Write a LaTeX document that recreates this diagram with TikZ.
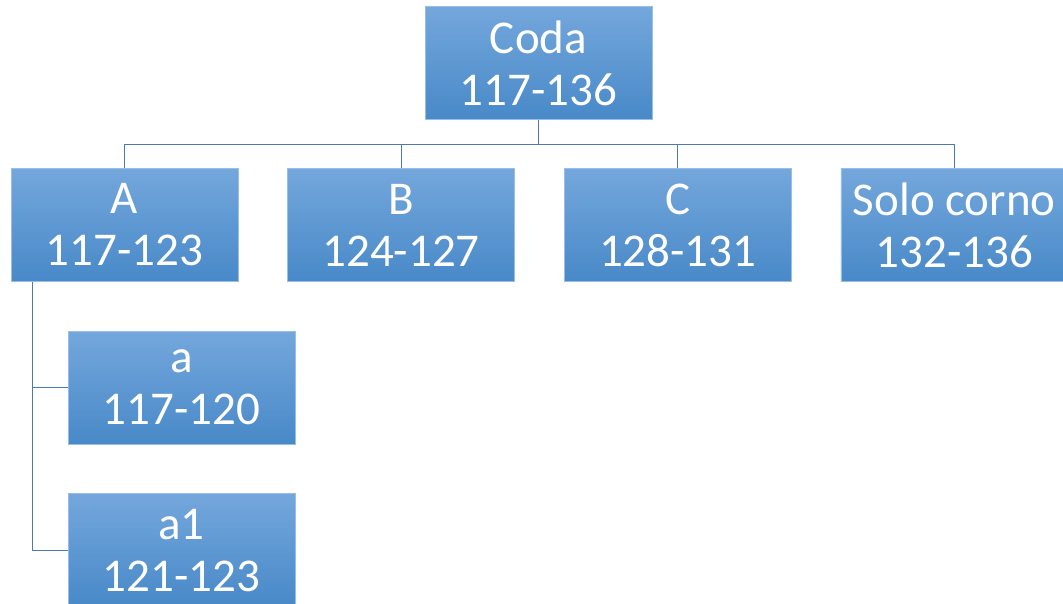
\documentclass[tikz,border=0pt]{standalone}
\usepackage{fontspec}
\setmainfont{Carlito}
\usepackage{tikz}
\usetikzlibrary{positioning}
\definecolor{boxtop}{RGB}{116,167,220}
\definecolor{boxmid}{RGB}{84,153,216}
\definecolor{boxbot}{RGB}{72,137,200}
\definecolor{boxedge}{RGB}{150,190,230}
\definecolor{linkcol}{RGB}{74,122,180}
\tikzset{
		partbox/.style={rectangle, draw=boxedge, line width=0.6pt,
			top color=boxtop, middle color=boxmid, bottom color=boxbot,
			minimum width=227pt, minimum height=113pt, inner sep=0pt,
			align=center, text=white,
			font=\fontsize{47}{52}\selectfont},
		link/.style={draw=linkcol, line width=1.2pt}
	}

\begin{document}
\begin{tikzpicture}[x=1pt, y=1pt, node distance=49pt]
				\useasboundingbox (0,0) rectangle (1063,-604);
				\node[partbox] (coda)  at (538.5,-63)        {Coda\\117-136};
				\node[partbox] (A)     at (124.5,-225)       {A\\117-123};
				\node[partbox] (B)     [right = of A]        {B\\124-127};
				\node[partbox] (C)     [right = of B]        {C\\128-131};
				\node[partbox] (solo)  [right = of C]        {Solo corno\\132-136};
				\node[partbox] (a)     at (181.5,-387.5)     {a\\117-120};
				\node[partbox] (a1)    [below = of a]        {a1\\121-123};
				\path[link] (coda.south) -- ++(0,-25) coordinate (bus);
				\path[link] (bus) -| (A.north);
				\path[link] (bus) -| (B.north);
				\path[link] (bus) -| (C.north);
				\path[link] (bus) -| (solo.north);
				\path[link] ([xshift=22pt]A.south west) |- (a.west);
				\path[link] ([xshift=22pt]A.south west) |- (a1.west);
			\end{tikzpicture}
\end{document}
